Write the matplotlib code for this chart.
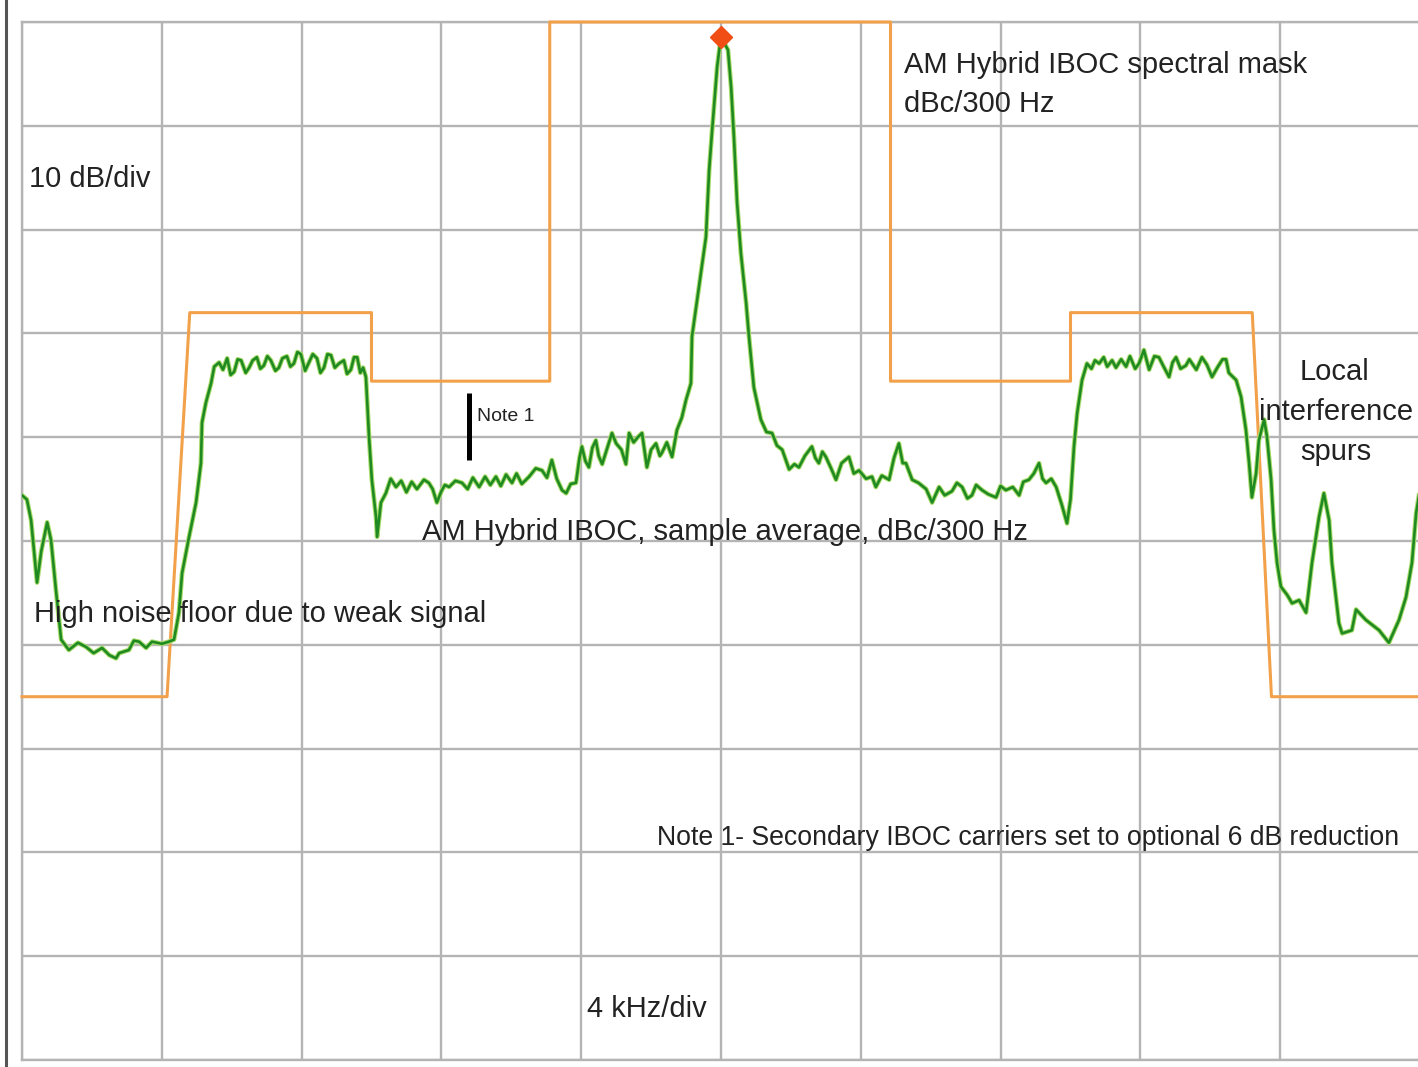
import matplotlib
matplotlib.use("Agg")
import matplotlib.pyplot as plt
from matplotlib.lines import Line2D
from matplotlib import font_manager


# Spectral mask, dBc/300 Hz versus offset from carrier (kHz)
mask_khz = [-20.0, -15.85, -15.2, -10.0, -10.0, -4.9, -4.9, 4.85, 4.85, 10.0, 10.0, 15.2, 15.75, 20.0]
mask_db = [-65, -65, -28, -28, -34.6, -34.6, 0, 0, -34.6, -34.6, -28, -28, -65, -65]

trace_khz = [
    -20.0, -19.86, -19.74, -19.57, -19.45, -19.28, -19.17, -19.03, -18.88, -18.66,
    -18.4, -18.17, -17.95, -17.71, -17.5, -17.31, -17.22, -16.94, -16.8, -16.65,
    -16.45, -16.28, -16.0, -15.8, -15.65, -15.51, -15.42, -15.22, -15.02, -14.88,
    -14.85, -14.74, -14.59, -14.5, -14.36,
    -14.25, -14.13, -14.03, -13.93, -13.83, -13.73, -13.6, -13.5, -13.4, -13.28,
    -13.18, -13.08, -12.98, -12.88, -12.75, -12.65, -12.55, -12.42, -12.32, -12.22,
    -12.12, -12.02, -11.9, -11.79, -11.68, -11.56, -11.46, -11.36, -11.26, -11.16,
    -11.05, -10.93, -10.79, -10.7, -10.59, -10.5, -10.41, -10.32, -10.24, -10.16,
    -10.13, -10.07, -9.99, -9.87, -9.84, -9.73, -9.59, -9.45, -9.3,
    -9.15, -9.0, -8.85, -8.7, -8.5, -8.36, -8.25, -8.13, -8.0, -7.9,
    -7.78, -7.6, -7.41, -7.25, -7.1, -6.92, -6.75, -6.6, -6.44, -6.3,
    -6.15, -5.98, -5.85, -5.7, -5.49, -5.3, -5.12, -4.98, -4.84, -4.7,
    -4.55, -4.43, -4.3, -4.15,
    -4.05, -3.98, -3.88, -3.78, -3.68, -3.58, -3.5, -3.4, -3.25, -3.12,
    -3.0, -2.85, -2.72, -2.63, -2.5, -2.38, -2.26, -2.12, -2.0, -1.86,
    -1.75, -1.69, -1.55, -1.4, -1.26, -1.12, -1.0, -0.86,
    -0.83, -0.63, -0.43, -0.34, -0.26, -0.11, 0.0, 0.2, 0.29, 0.37,
    0.46, 0.57, 0.72, 0.8, 0.94, 1.14, 1.3, 1.46, 1.6, 1.75,
    1.95, 2.1, 2.23, 2.4, 2.6, 2.7, 2.8, 2.9, 3.0, 3.15,
    3.29, 3.45, 3.66, 3.8, 3.95, 4.15, 4.32, 4.43, 4.6, 4.81,
    4.95, 5.09, 5.2, 5.29, 5.47, 5.65, 5.87, 6.04, 6.24, 6.4,
    6.61, 6.75, 6.9, 7.05, 7.18, 7.3, 7.47, 7.65, 7.87, 8.0,
    8.15, 8.35, 8.53, 8.65, 8.81, 8.95, 9.1, 9.2, 9.3, 9.45,
    9.59, 9.75, 9.9, 10.0, 10.1, 10.19, 10.33, 10.47,
    10.6, 10.7, 10.82, 10.95, 11.05, 11.19, 11.3, 11.45, 11.59, 11.7,
    11.85, 11.96, 12.1, 12.25, 12.4, 12.53, 12.65, 12.82, 12.92, 13.02,
    13.15, 13.3, 13.4, 13.48, 13.6, 13.76, 13.9, 14.05, 14.2, 14.35,
    14.45, 14.53, 14.74, 14.88, 15.02, 15.11, 15.19, 15.31, 15.39, 15.54,
    15.62, 15.74, 15.82, 15.91, 16.02, 16.2, 16.34, 16.54, 16.74, 16.91,
    17.11, 17.25, 17.4, 17.48, 17.68, 17.77, 18.05, 18.17, 18.45, 18.83,
    19.11, 19.4, 19.6, 19.77, 19.89, 20.0,
]
trace_db = [
    -45.6, -46.0, -48.0, -54.0, -51.0, -48.2, -49.9, -54.7, -59.5, -60.5,
    -59.8, -60.2, -60.8, -60.3, -61.0, -61.3, -60.8, -60.5, -59.6, -59.7,
    -60.3, -59.7, -59.9, -59.7, -59.5, -56.9, -53.1, -49.6, -46.3, -42.5,
    -38.6, -36.7, -34.8, -33.2, -32.8,
    -33.5, -32.4, -34.0, -33.7, -32.5, -32.6, -33.8, -33.3, -32.6, -32.3,
    -33.4, -33.1, -32.2, -32.6, -33.6, -33.3, -32.4, -32.2, -33.2, -32.9,
    -31.8, -32.0, -33.6, -32.8, -32.0, -32.4, -33.8, -33.3, -32.0, -32.1,
    -33.3, -32.9, -32.6, -33.9, -33.5, -32.3, -32.3, -33.8, -33.3, -34.2,
    -36.1, -40.0, -44.1, -47.7, -49.6, -46.3, -45.4, -44.0, -44.8,
    -44.2, -45.3, -44.3, -45.0, -44.1, -44.4, -45.0, -46.3, -45.2, -44.6,
    -44.8, -44.2, -44.4, -45.0, -43.9, -44.8, -43.8, -44.6, -43.8, -44.7,
    -43.6, -44.4, -43.5, -44.5, -43.8, -43.0, -43.2, -43.9, -42.2, -44.0,
    -45.1, -45.4, -44.5, -44.4,
    -42.0, -40.9, -42.3, -42.9, -41.0, -40.3, -41.8, -42.6, -41.0, -39.6,
    -40.6, -41.2, -42.6, -39.6, -40.5, -40.0, -39.6, -42.9, -41.2, -40.6,
    -41.8, -41.5, -40.5, -41.9, -39.3, -38.1, -36.4, -34.8,
    -30.3, -25.5, -20.7, -14.3, -10.7, -4.3, -1.4, -2.7, -6.3, -11.1,
    -17.4, -22.3, -27.1, -30.3, -35.2, -38.3, -39.5, -39.6, -40.8, -41.2,
    -43.1, -42.6, -42.9, -41.8, -40.9, -42.0, -42.5, -41.4, -41.9, -43.0,
    -44.1, -42.5, -41.9, -43.5, -43.2, -44.0, -43.8, -44.8, -43.7, -44.1,
    -42.0, -40.6, -42.5, -42.5, -44.1, -44.4, -45.0, -46.3, -44.8, -45.6,
    -45.2, -44.4, -44.8, -45.9, -45.6, -44.6, -45.1, -45.5, -45.8, -44.7,
    -45.1, -44.8, -45.6, -44.3, -44.1, -43.5, -42.5, -44.0, -44.4, -44.0,
    -44.8, -46.5, -48.3, -46.0, -40.9, -37.7, -34.5, -32.9,
    -33.4, -32.6, -32.9, -32.3, -33.2, -32.6, -33.3, -32.5, -33.2, -32.2,
    -33.4, -32.9, -31.6, -33.5, -32.2, -32.3, -33.1, -34.2, -32.8, -32.3,
    -33.4, -33.1, -32.5, -32.9, -33.5, -32.3, -33.0, -34.2, -33.3, -32.5,
    -32.5, -33.8, -34.5, -36.1, -39.3, -42.5, -45.8, -43.5, -40.3, -38.3,
    -39.9, -44.1, -48.9, -52.1, -54.4, -55.2, -56.0, -55.7, -56.9, -52.1,
    -47.7, -45.4, -48.0, -52.1, -57.9, -58.9, -58.6, -56.6, -57.6, -58.6,
    -59.8, -57.6, -55.4, -52.1, -47.3, -45.0,
]

# Carrier peak marker
peak_khz = 0.0
peak_db = -1.4

# "Note 1" bracket
note1_khz = -7.2
note1_db = (-35.7, -42.2)

installed = {f.name for f in font_manager.fontManager.ttflist}
if "Liberation Sans Narrow" in installed:
    FAM = ["Liberation Sans Narrow", "DejaVu Sans"]
    S = 1.22
else:
    FAM = ["Liberation Sans", "DejaVu Sans"]
    S = 1.0
plt.rcParams["font.family"] = FAM

MASK_COLOR = "#f2a14a"
TRACE_COLOR = "#1f8a22"
TEXT_COLOR = "#222222"

fig = plt.figure(figsize=(14.18, 10.67), dpi=100)
ax = fig.add_axes([22 / 1418, 7 / 1067, 1398 / 1418, 1038 / 1067])

ax.set_xlim(-20, 20)
ax.set_ylim(-100, 0)
ax.set_xticks(range(-20, 21, 4))
ax.set_yticks(range(-100, 1, 10))
ax.tick_params(length=0, labelbottom=False, labelleft=False)
ax.grid(True, color="#b4b4b4", linewidth=1.7)
ax.set_axisbelow(True)
for sp in ax.spines.values():
    sp.set_color("#b4b4b4")
    sp.set_linewidth(1.7)

ax.plot(mask_khz, mask_db, color=MASK_COLOR, linewidth=2.2, zorder=3, clip_on=False)

ax.plot(trace_khz, trace_db, color="#a9dc6c", linewidth=3.4, zorder=4)
ax.plot(trace_khz, trace_db, color=TRACE_COLOR, linewidth=1.9, zorder=5)

ax.plot([peak_khz], [peak_db], marker="D", markersize=11, color="#f04e14",
        markeredgecolor="#f04e14", zorder=6, clip_on=False)

ax.vlines(note1_khz, note1_db[1], note1_db[0], color="black", linewidth=3.6, zorder=6)

fs = 21 * S
txt = dict(color=TEXT_COLOR, va="baseline", ha="left", zorder=7)
ax.text(-19.8, -15.9, "10 dB/div", fontsize=fs, **txt)
ax.text(5.24, -4.9, "AM Hybrid IBOC spectral mask", fontsize=fs, **txt)
ax.text(5.24, -8.67, "dBc/300 Hz", fontsize=fs, **txt)
ax.text(-8.56, -49.9, "AM Hybrid IBOC, sample average, dBc/300 Hz", fontsize=fs, **txt)
ax.text(-19.66, -57.8, "High noise floor due to weak signal", fontsize=fs, **txt)
ax.text(-1.83, -79.3, "Note 1- Secondary IBOC carriers set to optional 6 dB reduction",
        fontsize=19.2 * S, **txt)
ax.text(-3.83, -95.9, "4 kHz/div", fontsize=fs, **txt)
ax.text(-6.98, -38.4, "Note 1", fontsize=14 * S, **txt)

ctr = dict(color=TEXT_COLOR, va="baseline", ha="center", zorder=7)
ax.text(17.55, -34.5, "Local", fontsize=fs, **ctr)
ax.text(17.6, -38.3, "interference", fontsize=fs, **ctr)
ax.text(17.6, -42.2, "spurs", fontsize=fs, **ctr)

# dark frame edge at the left of the scan
fig.add_artist(Line2D([6 / 1418, 6 / 1418], [0, 1], color="#555555", linewidth=2.2,
                      transform=fig.transFigure))

fig.savefig("out.png", dpi=100)
